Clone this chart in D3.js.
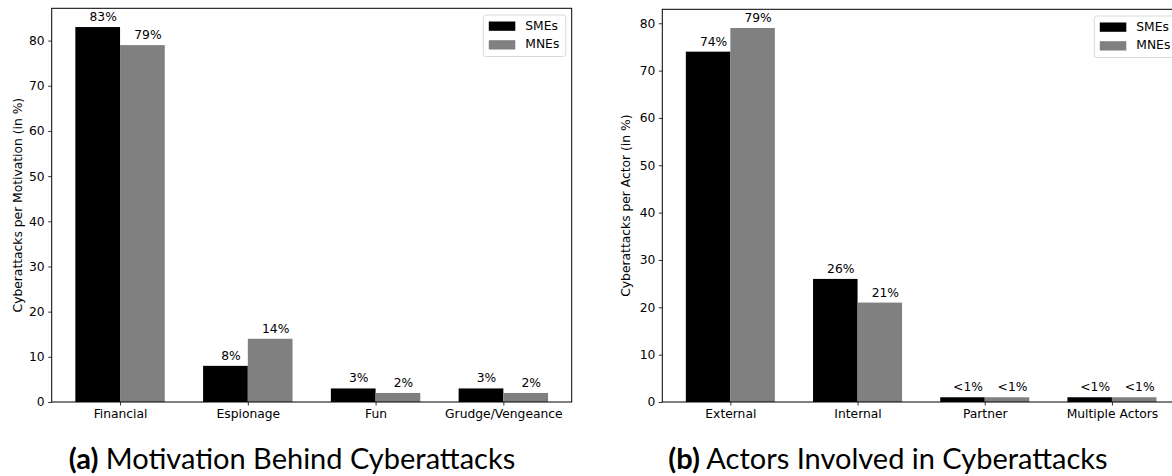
<!DOCTYPE html>
<html>
<head>
<meta charset="utf-8">
<script src="https://cdn.jsdelivr.net/npm/d3@7"></script>
<style>
  body { margin: 0; background: #fff; }
  svg { display: block; }
  text { font-family: "DejaVu Sans", sans-serif; fill: #000; }
  .caption { font-family: "Lato", "DejaVu Sans", sans-serif; }
</style>
</head>
<body>
<svg id="chart" width="1172" height="476"></svg>
<script>
// Panel (a): motivation behind cyberattacks
const motivationCategories = ["Financial", "Espionage", "Fun", "Grudge/Vengeance"];
const motivationSMEs = [83, 8, 3, 3];
const motivationMNEs = [79, 14, 2, 2];
const motivationLabelsSMEs = ["83%", "8%", "3%", "3%"];
const motivationLabelsMNEs = ["79%", "14%", "2%", "2%"];

// Panel (b): actors involved in cyberattacks
const actorCategories = ["External", "Internal", "Partner", "Multiple Actors"];
const actorSMEs = [74, 26, 1, 1];
const actorMNEs = [79, 21, 1, 1];
const actorLabelsSMEs = ["74%", "26%", "<1%", "<1%"];
const actorLabelsMNEs = ["79%", "21%", "<1%", "<1%"];

const seriesNames = ["SMEs", "MNEs"];
const seriesColors = ["#000000", "#808080"];
const yTicks = [0, 10, 20, 30, 40, 50, 60, 70, 80];

const svg = d3.select("#chart");

function drawPanel(cfg) {
  const g = svg.append("g");
  const barW = 0.35;
  const n = cfg.categories.length;
  const maxV = d3.max([...cfg.sme, ...cfg.mne]);
  const x = d3.scaleLinear().domain([-barW - 0.185, n - 1 + barW + 0.185]).range([cfg.left, cfg.right]);
  const y = d3.scaleLinear().domain([0, maxV * 1.05]).range([cfg.bottom, cfg.top]);

  // bars
  [cfg.sme, cfg.mne].forEach((vals, s) => {
    g.append("g").selectAll("rect").data(vals).join("rect")
      .attr("x", (d, i) => x(i + (s === 0 ? -barW : 0)))
      .attr("width", x(barW) - x(0))
      .attr("y", d => y(d))
      .attr("height", d => y(0) - y(d))
      .attr("fill", seriesColors[s]);
  });

  // value labels
  [[cfg.sme, cfg.smeLabels, -barW / 2], [cfg.mne, cfg.mneLabels, barW / 2]].forEach(([vals, labels, off]) => {
    g.append("g").selectAll("text").data(vals).join("text")
      .attr("x", (d, i) => x(i + off) + 5.5)
      .attr("y", d => y(d) - 6)
      .attr("text-anchor", "middle")
      .style("font-size", cfg.fs + "px")
      .text((d, i) => labels[i]);
  });

  // axes
  const yAxis = d3.axisLeft(y).tickValues(yTicks).tickSize(3.5).tickPadding(3.5).tickFormat(d3.format("d"));
  const yG = g.append("g").attr("transform", `translate(${cfg.left},0)`).call(yAxis);
  const xAxis = d3.axisBottom(x).tickValues(d3.range(n)).tickSize(3.5).tickPadding(3.5)
    .tickFormat(i => cfg.categories[i]);
  const xG = g.append("g").attr("transform", `translate(0,${cfg.bottom})`).call(xAxis);
  [yG, xG].forEach(a => {
    a.select(".domain").remove();
    a.selectAll(".tick line").attr("stroke", "#000").attr("stroke-width", 0.8);
    a.selectAll(".tick text").style("font-size", cfg.fs + "px").style("font-family", "DejaVu Sans");
  });

  // frame
  g.append("rect")
    .attr("x", cfg.left).attr("y", cfg.top)
    .attr("width", cfg.right - cfg.left).attr("height", cfg.bottom - cfg.top)
    .attr("fill", "none").attr("stroke", "#000").attr("stroke-width", 1);

  // y label
  g.append("text")
    .attr("transform", `translate(${cfg.ylabelX},${(cfg.top + cfg.bottom) / 2}) rotate(-90)`)
    .attr("text-anchor", "middle")
    .attr("dominant-baseline", "middle")
    .style("font-size", cfg.fs + "px")
    .text(cfg.ylabel);

  // legend
  const lg = g.append("g").attr("transform", `translate(${cfg.legendX},${cfg.legendY})`);
  lg.append("rect").attr("x", 0).attr("y", 0).attr("width", cfg.legendW).attr("height", 41.5)
    .attr("rx", 2.5).attr("fill", "#fff").attr("fill-opacity", 0.8)
    .attr("stroke", "#d9d9d9").attr("stroke-width", 1);
  seriesNames.forEach((name, i) => {
    lg.append("rect").attr("x", 5.5).attr("y", 6.5 + i * 18.7).attr("width", 26.5).attr("height", 9.3)
      .attr("fill", seriesColors[i]);
    lg.append("text").attr("x", 42).attr("y", 11.2 + i * 18.7)
      .attr("dominant-baseline", "middle")
      .style("font-size", cfg.fs + "px").text(name);
  });

  // caption
  const cap = svg.append("text").attr("class", "caption")
    .attr("x", cfg.captionX).attr("y", 469)
    .attr("text-anchor", "middle")
    .style("font-size", "29px");
  cap.append("tspan").style("font-weight", "bold").text(cfg.captionTag);
  cap.append("tspan").text(" " + cfg.caption);
}

drawPanel({
  categories: motivationCategories, sme: motivationSMEs, mne: motivationMNEs,
  smeLabels: motivationLabelsSMEs, mneLabels: motivationLabelsMNEs,
  left: 51.7, right: 571.7, top: 8.3, bottom: 402,
  fs: 12.3, ylabel: "Cyberattacks per Motivation (in %)", ylabelX: 18,
  legendX: 483.3, legendY: 15, legendW: 82.5,
  captionX: 292, captionTag: "(a)", caption: "Motivation Behind Cyberattacks"
});

drawPanel({
  categories: actorCategories, sme: actorSMEs, mne: actorMNEs,
  smeLabels: actorLabelsSMEs, mneLabels: actorLabelsMNEs,
  left: 662.3, right: 1180, top: 9.3, bottom: 402,
  fs: 12.3, ylabel: "Cyberattacks per Actor (in %)", ylabelX: 626,
  legendX: 1094.3, legendY: 16, legendW: 82,
  captionX: 888, captionTag: "(b)", caption: "Actors Involved in Cyberattacks"
});
</script>
</body>
</html>
